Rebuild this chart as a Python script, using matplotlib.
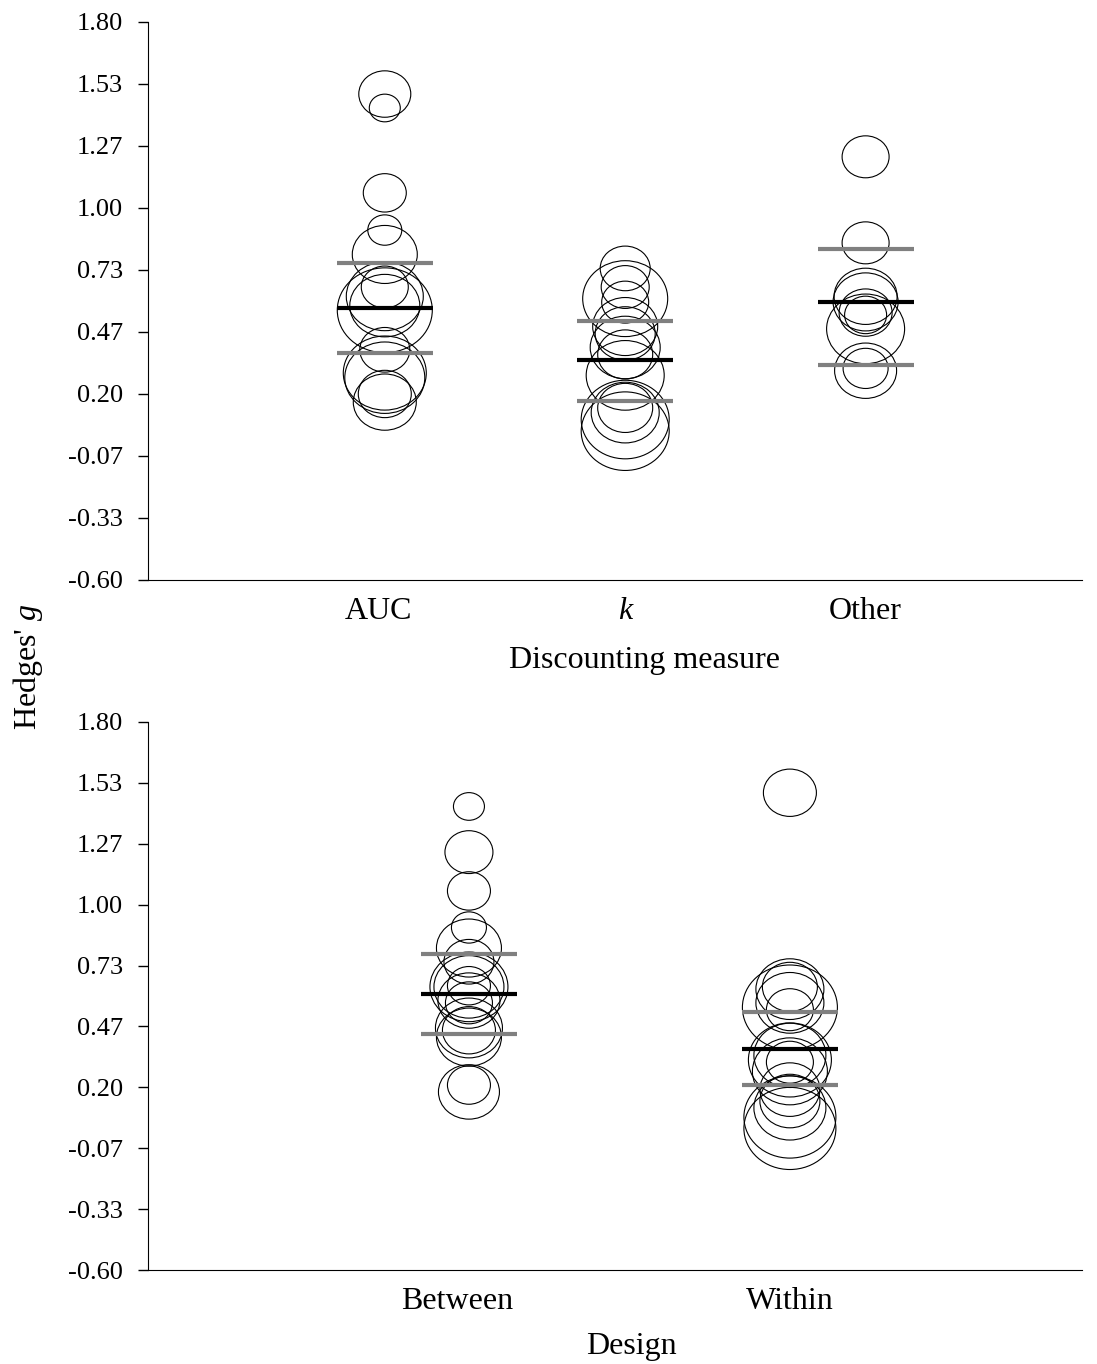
import numpy as np
import matplotlib
matplotlib.use("Agg")
import matplotlib.pyplot as plt
from matplotlib.path import Path
from matplotlib.transforms import Affine2D, ScaledTranslation

plt.rcParams['font.family'] = ['Liberation Serif', 'DejaVu Serif']
plt.rcParams['mathtext.fontset'] = 'custom'
plt.rcParams['mathtext.rm'] = 'Liberation Serif'
plt.rcParams['mathtext.it'] = 'Liberation Serif:italic'
plt.rcParams['axes.unicode_minus'] = False

# ---- data: effect sizes (Hedges' g) and study weights ----
measure_labels = ['AUC', 'k', 'Other']
auc_g = [1.49, 1.43, 1.065, 0.905, 0.80, 0.66, 0.62, 0.58, 0.56, 0.39, 0.29, 0.27, 0.20, 0.165]
auc_w = [52, 31, 43, 34, 65, 47, 77, 70, 95, 50, 83, 80, 53, 63]
k_g = [0.74, 0.61, 0.66, 0.595, 0.49, 0.46, 0.40, 0.37, 0.28, 0.14, 0.12, 0.09, 0.04]
k_w = [50, 85, 48, 47, 65, 60, 70, 55, 78, 55, 68, 88, 88]
other_g = [1.22, 0.85, 0.62, 0.596, 0.55, 0.54, 0.48, 0.31, 0.30]
other_w = [47, 47, 63, 65, 53, 42, 78, 45, 62]
measure_mean = [0.57, 0.346, 0.596]
measure_lo = [0.376, 0.17, 0.325]
measure_hi = [0.763, 0.514, 0.824]

design_labels = ['Between', 'Within']
between_g = [1.43, 1.23, 1.06, 0.90, 0.81, 0.75, 0.64, 0.64, 0.645, 0.58, 0.57, 0.46, 0.45, 0.42, 0.21, 0.18]
between_w = [31, 48, 43, 35, 65, 50, 78, 70, 43, 62, 47, 67, 53, 65, 43, 61]
within_g = [1.49, 0.63, 0.64, 0.55, 0.57, 0.54, 0.32, 0.34, 0.31, 0.27, 0.19, 0.14, 0.11, 0.07, 0.02]
within_w = [53, 68, 55, 95, 68, 47, 83, 72, 47, 75, 60, 60, 72, 92, 92]
design_mean = [0.609, 0.368]
design_lo = [0.434, 0.21]
design_hi = [0.784, 0.53]

yticks = np.linspace(-0.6, 1.8, 10)

# slightly flattened circle, like the original bubbles
ellipse = Path.unit_circle().transformed(Affine2D().scale(1.12, 1.0))


def draw_panel(ax, groups, weights, means, los, his, labels, half, xlim):
    for i, (g, w) in enumerate(zip(groups, weights)):
        x = np.full(len(g), i + 1.0)
        s = (np.array(w) * 0.72) ** 2
        ax.scatter(x, g, s=s, marker=ellipse, facecolors='none',
                   edgecolors='black', linewidths=0.8, zorder=2)
    xs = np.arange(1, len(groups) + 1)
    ax.hlines(his, xs - half, xs + half, colors='#808080', linewidth=3, zorder=3)
    ax.hlines(los, xs - half, xs + half, colors='#808080', linewidth=3, zorder=3)
    ax.hlines(means, xs - half, xs + half, colors='black', linewidth=3, zorder=4)
    ax.set_xlim(*xlim)
    ax.set_ylim(-0.6, 1.8)
    ax.set_yticks(yticks)
    ax.set_yticklabels(['%.2f' % v for v in yticks], fontsize=19)
    ax.set_xticks(xs)
    ax.set_xticklabels(labels, fontsize=23)
    ax.tick_params(axis='x', length=0, pad=12)
    ax.tick_params(axis='y', direction='out', length=7, width=1, pad=11)
    ax.spines['top'].set_visible(False)
    ax.spines['right'].set_visible(False)


fig = plt.figure(figsize=(10.97, 13.64), dpi=100)
ax1 = fig.add_axes([0.1349, 0.5748, 0.8514, 0.4091])
ax2 = fig.add_axes([0.1349, 0.0689, 0.8514, 0.4018])

draw_panel(ax1, [auc_g, k_g, other_g], [auc_w, k_w, other_w],
           measure_mean, measure_lo, measure_hi, measure_labels, 0.2, (0.015, 3.9))
ax1.get_xticklabels()[1].set_fontstyle('italic')
# the original category labels sit a little off their columns
ax1.get_xticklabels()[0].set_transform(
    ax1.get_xticklabels()[0].get_transform() + ScaledTranslation(-6 / 100, 0, fig.dpi_scale_trans))
ax1.set_xlabel('Discounting measure', fontsize=23)
ax1.xaxis.set_label_coords(0.532, -0.118)

draw_panel(ax2, [between_g, within_g], [between_w, within_w],
           design_mean, design_lo, design_hi, design_labels, 0.15, (0.0, 2.91))
ax2.get_xticklabels()[0].set_transform(
    ax2.get_xticklabels()[0].get_transform() + ScaledTranslation(-12 / 100, 0, fig.dpi_scale_trans))
ax2.set_xlabel('Design', fontsize=23)
ax2.xaxis.set_label_coords(0.518, -0.113)

fig.text(0.0255, 0.511, "Hedges' $g$", rotation=90, fontsize=23,
         ha='center', va='center')

fig.savefig('out.png', dpi=100)
